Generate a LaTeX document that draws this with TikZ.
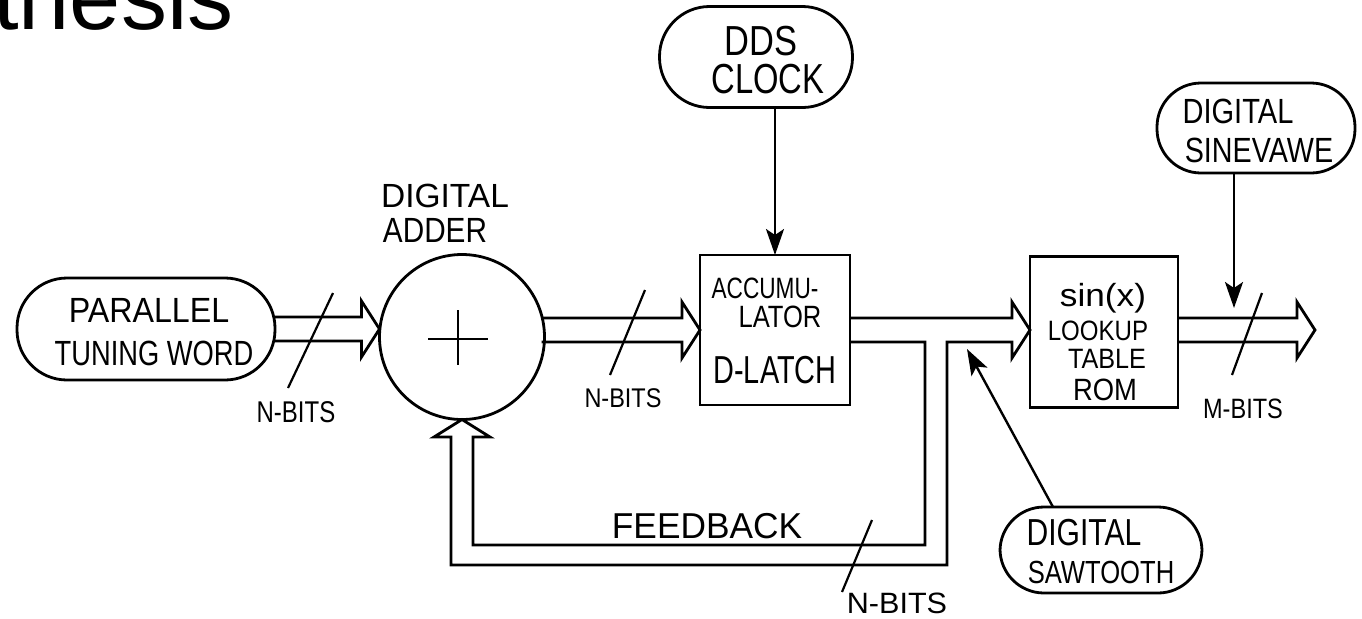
\documentclass[tikz,border=0pt]{standalone}
\usepackage{fontspec}
\usepackage{graphicx}
\setmainfont{Liberation Sans}
\usetikzlibrary{calc,arrows.meta}
\newcommand\hw[2]{\scalebox{#1}[1]{#2}}
\newcommand\busarrow[2]{%
  \draw[bus] ($(#1)+(0,-12)$) -- ($(#2)+(-18,-12)$) -- ($(#2)+(-18,-28)$) -- (#2)
    -- ($(#2)+(-18,28)$) -- ($(#2)+(-18,12)$) -- ($(#1)+(0,12)$);}
\tikzset{
  px/.style={x=0.5pt,y=-0.5pt},
  bus/.style={draw, line width=1.4pt, line join=miter, miter limit=4},
  ptr/.style={draw, line width=1.2pt, -{Stealth[length=13pt,width=9pt,inset=3pt]}},
  slash/.style={draw, line width=1.1pt},
  blob/.style={draw, line width=1.4pt, rectangle, rounded corners=22pt, inner sep=0pt, outer sep=0pt},
  blk/.style={draw, line width=1.4pt, rectangle, inner sep=0pt, outer sep=0pt},
  lab/.style={anchor=base, inner sep=0pt, outer sep=0pt},
}
\begin{document}
\begin{tikzpicture}[px]
\useasboundingbox (0,0) rectangle (1362,618);
\fill[white] (0,0) rectangle (1362,618);
\node[anchor=base east, inner sep=0pt, font=\fontsize{46}{50}\selectfont] (title) at (234,29) {thesis};

% shapes
\node[blob, minimum width=129pt, minimum height=51pt, rounded corners=25pt] (ptw) at (146,329) {};
\node[draw, circle, line width=1.4pt, minimum size=82.5pt, inner sep=0pt, outer sep=0pt] (adder) at (462,337) {};
\node[blk, minimum width=75pt, minimum height=75pt] (acc) at (775,330) {};
\node[blk, minimum width=74pt, minimum height=75.5pt] (rom) at (1104,332) {};
\node[blob, minimum width=96.5pt, minimum height=50.5pt, rounded corners=25pt] (clock) at (756,57) {};
\node[blob, minimum width=99pt, minimum height=45pt] (sine) at (1256,128) {};
\node[blob, minimum width=101pt, minimum height=43pt] (saw) at (1101,550) {};
\coordinate (out) at (1315,330);
\coordinate (a2) at ($(adder.east |- acc.west)+(-3,0)$);

% plus sign
\draw[line width=1.3pt] ($(adder)+(-34,2)$) -- ($(adder)+(26,2)$);
\draw[line width=1.3pt] ($(adder)+(-4,-27)$) -- ($(adder)+(-4,28)$);

% buses
\busarrow{ptw.east}{adder.west |- ptw.east}
\busarrow{a2}{acc.west}
\busarrow{rom.east |- out}{out}
\draw[bus] ($(acc.east)+(0,-12)$) -- ($(rom.west |- acc.east)+(-18,-12)$)
  -- ($(rom.west |- acc.east)+(-18,-28)$) -- (rom.west |- acc.east)
  -- ($(rom.west |- acc.east)+(-18,28)$) -- ($(rom.west |- acc.east)+(-18,12)$)
  -- (947,342) -- (947,565) -- (451,565) -- (451,437) -- (434,437) -- (adder.south)
  -- (490,437) -- (473,437) -- (473,545) -- (925,545) -- (925,342)
  -- ($(acc.east)+(0,12)$);

% pointers
\draw[ptr] (acc.north |- clock.south) -- (acc.north);
\coordinate (sinetip) at (1234,308);
\draw[ptr] (sinetip |- sine.south) -- (sinetip);
\coordinate (sawtip) at (967,349);
\draw[ptr] ($(saw.north)+(-48,0)$) -- (sawtip);

% bus-width slashes
\draw[slash] (333,293) -- (288,388);
\draw[slash] (645,290) -- (610,375);
\draw[slash] (872,520) -- (842,592);
\draw[slash] (1262,293) -- (1232,375);

% labels
\node[lab, font=\fontsize{17.5}{20}\selectfont] (t1) at (149,322) {\hw{0.92}{PARALLEL}};
\node[lab, font=\fontsize{17.5}{20}\selectfont] (t2) at (154,365) {\hw{0.78}{TUNING WORD}};
\node[lab, font=\fontsize{16.75}{20}\selectfont] (t3) at (445,207) {\hw{1.0}{DIGITAL}};
\node[lab, font=\fontsize{17.5}{20}\selectfont] (t4) at (435,242) {\hw{0.85}{ADDER}};
\node[lab, font=\fontsize{15}{18}\selectfont] (t5) at (296,422) {\hw{0.8}{N-BITS}};
\node[lab, font=\fontsize{13.5}{16}\selectfont] (t6) at (623,407) {\hw{0.87}{N-BITS}};
\node[lab, font=\fontsize{14.7}{17}\selectfont] (t7) at (765,298) {\hw{0.77}{ACCUMU-}};
\node[lab, font=\fontsize{15.4}{18}\selectfont] (t8) at (780,327) {\hw{0.83}{LATOR}};
\node[lab, font=\fontsize{19.5}{22}\selectfont] (t9) at (775,383) {\hw{0.74}{D-LATCH}};
\node[lab, font=\fontsize{21}{24}\selectfont] (t10) at (761,55) {\hw{0.82}{DDS}};
\node[lab, font=\fontsize{21}{24}\selectfont] (t11) at (768,93) {\hw{0.78}{CLOCK}};
\node[lab, font=\fontsize{16}{19}\selectfont] (t12) at (1103,306) {\hw{1.1}{sin(x)}};
\node[lab, font=\fontsize{14}{17}\selectfont] (t13) at (1098,340) {\hw{0.86}{LOOKUP}};
\node[lab, font=\fontsize{14}{17}\selectfont] (t14) at (1107,368) {\hw{0.9}{TABLE}};
\node[lab, font=\fontsize{15.4}{18}\selectfont] (t15) at (1105,400) {\hw{0.89}{ROM}};
\node[lab, font=\fontsize{14}{17}\selectfont] (t16) at (1243,418) {\hw{0.84}{M-BITS}};
\node[lab, font=\fontsize{18}{21}\selectfont] (t17) at (707,538) {\hw{0.98}{FEEDBACK}};
\node[lab, font=\fontsize{14.7}{17}\selectfont] (t18) at (897,613) {\hw{1.04}{N-BITS}};
\node[lab, font=\fontsize{18.8}{22}\selectfont] (t19) at (1084,545) {\hw{0.8}{DIGITAL}};
\node[lab, font=\fontsize{16}{19}\selectfont] (t20) at (1101,583) {\hw{0.8}{SAWTOOTH}};
\node[lab, font=\fontsize{17.5}{20}\selectfont] (t21) at (1238,123) {\hw{0.83}{DIGITAL}};
\node[lab, font=\fontsize{17.5}{20}\selectfont] (t22) at (1259,162) {\hw{0.82}{SINEVAWE}};
\end{tikzpicture}
\end{document}
